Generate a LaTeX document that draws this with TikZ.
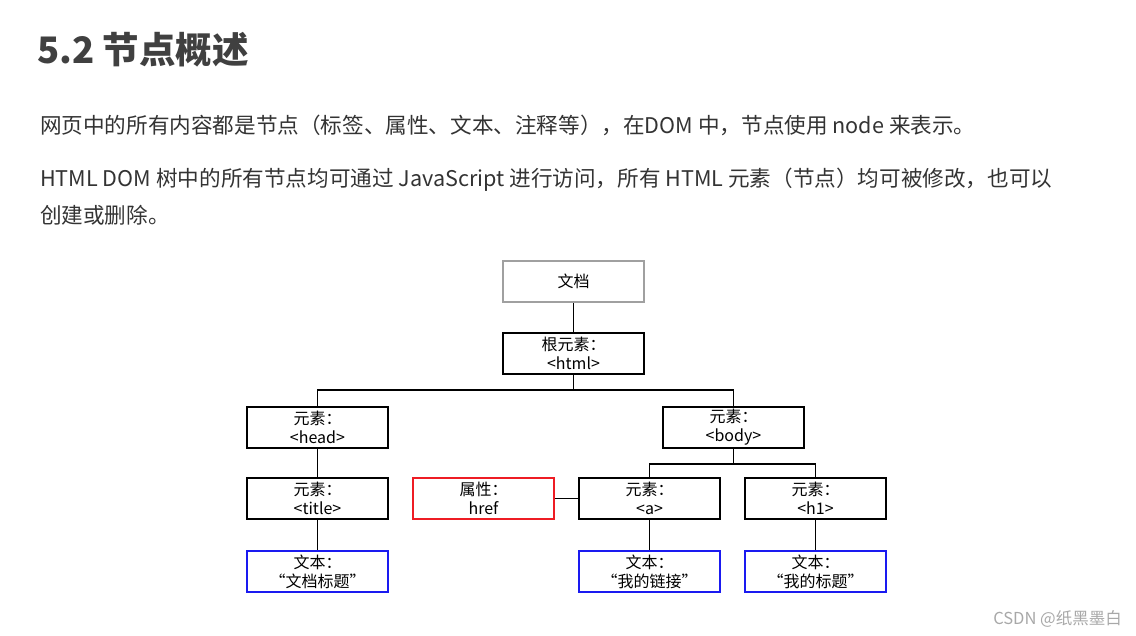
\documentclass[tikz,border=0pt]{standalone}
\usepackage{fontspec}
\setmainfont{Noto Sans CJK SC}
\usetikzlibrary{positioning}

\definecolor{headgray}{HTML}{404040}
\definecolor{bodygray}{HTML}{333333}
\definecolor{docgray}{HTML}{A0A0A0}
\definecolor{attrred}{HTML}{EE1C24}
\definecolor{textblue}{HTML}{1A1AF0}
\definecolor{markgray}{HTML}{A8A8A8}

\tikzset{
  domnode/.style={minimum width=141pt, minimum height=41pt, inner sep=0pt, draw, line width=1.3pt,
    align=center, font=\fontsize{16}{19}\selectfont},
  docnode/.style={domnode, draw=docgray, line width=2.4pt},
  attrnode/.style={domnode, draw=attrred},
  textnode/.style={domnode, draw=textblue},
  link/.style={line width=1.3pt},
  para/.style={anchor=base west, inner sep=0pt, text=bodygray, font=\fontsize{21.6}{26}\selectfont}
}

\begin{document}
\begin{tikzpicture}[x=1pt, y=-1pt, node distance=72pt]
  \useasboundingbox (0,0) rectangle (1136,636);

  % heading and text
  \node[anchor=base west, inner sep=0pt, text=headgray, font=\fontsize{36.5}{40}\selectfont\bfseries] (title) at (37,64) {5.2 节点概述};
  \node[para] (line1) at (40,134) {网页中的所有内容都是节点（标签、属性、文本、注释等），在DOM 中，节点使用 node 来表示。};
  \node[para] (line2) at (40,187) {HTML DOM 树中的所有节点均可通过 JavaScript 进行访问，所有 HTML 元素（节点）均可被修改，也可以};
  \node[para] (line3) at (40,224) {创建或删除。};

  % the tree
  \node[docnode] (doc) at (573.5,281.5) {文档};
  \node[domnode] (html) [below of=doc] {根元素：\\<html>};
  \node[domnode] (head) at (317.5,427.5) {元素：\\<head>};
  \node[domnode] (body) at (733.5,427.5) {元素：\\<body>};
  \node[domnode] (titleel) [below of=head, node distance=71pt] {元素：\\<title>};
  \node[domnode] (ael) at (649.5,498.5) {元素：\\<a>};
  \node[domnode] (hel) [right of=ael, node distance=166pt] {元素：\\<h1>};
  \node[attrnode] (href) [left of=ael, node distance=166pt] {属性：\\href};
  \node[textnode] (titletxt) [below of=titleel, node distance=73pt] {文本：\\“文档标题”};
  \node[textnode] (atxt) [below of=ael, node distance=73pt] {文本：\\“我的链接”};
  \node[textnode] (htxt) [below of=hel, node distance=73pt] {文本：\\“我的标题”};

  \coordinate (split) at (573.5,390);
  \coordinate (bsplit) at (733.5,464);

  \draw[link] (doc) -- (html);
  \draw[link] (html) -- (split);
  \draw[link] (head.north) |- (split) -| (body.north);
  \draw[link] (head) -- (titleel);
  \draw[link] (titleel) -- (titletxt);
  \draw[link] (body) -- (bsplit);
  \draw[link] (ael.north) |- (bsplit) -| (hel.north);
  \draw[link] (href) -- (ael);
  \draw[link] (ael) -- (atxt);
  \draw[link] (hel) -- (htxt);

  \node[anchor=base east, inner sep=0pt, text=markgray, font=\fontsize{16.5}{20}\selectfont] (mark) at (1122,624) {CSDN @纸黑墨白};
\end{tikzpicture}
\end{document}
